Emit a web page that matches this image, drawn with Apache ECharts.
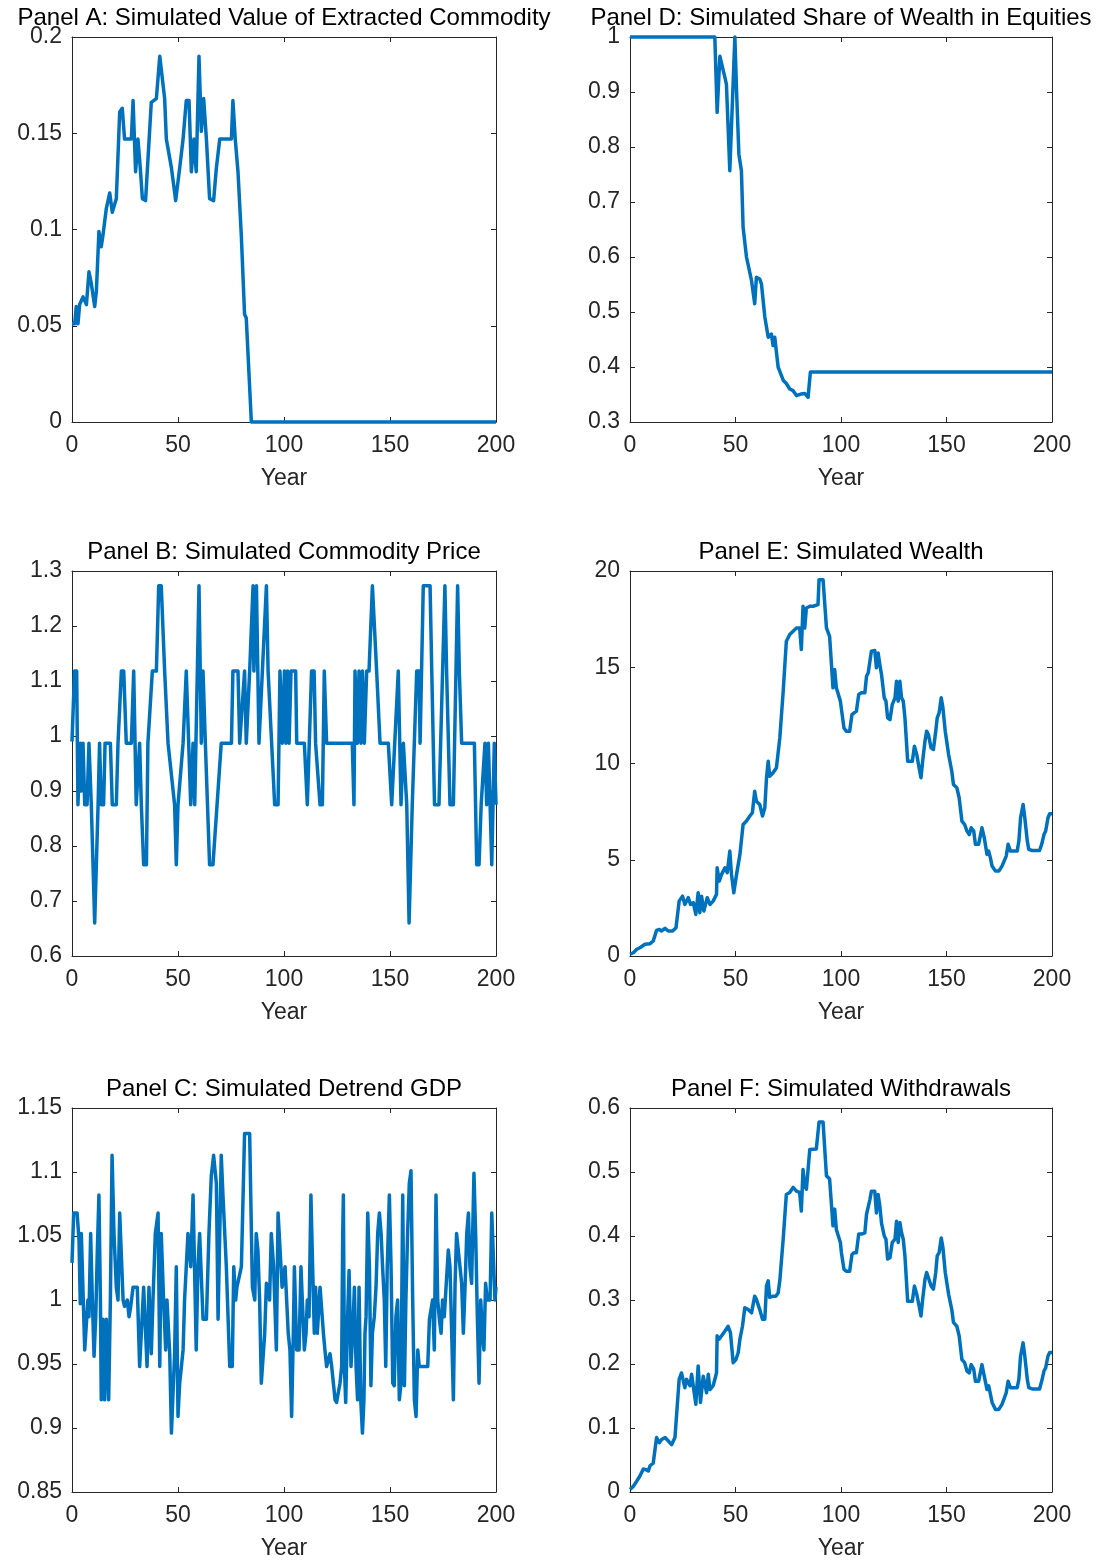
<!DOCTYPE html>
<html><head><meta charset="utf-8">
<script src="https://cdn.jsdelivr.net/npm/echarts@6/dist/echarts.min.js"></script>
<style>html,body{margin:0;padding:0;background:#fff}#c{width:1102px;height:1561px}</style>
</head><body><div id="c"></div>
<script>
// ---- Data: [year, value] pairs ----
const panelA = [[0,0.051],[1.3,0.051],[2,0.060],[2.8,0.051],[3.6,0.061],[5.2,0.065],[6.8,0.061],[8,0.078],[9.1,0.072],[10.7,0.060],[11.5,0.068],[12.7,0.099],[13.8,0.091],[14.6,0.097],[16.2,0.111],[17.8,0.119],[19,0.109],[20.9,0.116],[22.5,0.161],[23.7,0.163],[24.8,0.147],[28,0.147],[28.8,0.167],[30,0.130],[31.1,0.147],[32.2,0.132],[33.2,0.116],[34.7,0.115],[37.4,0.166],[39.8,0.168],[41.4,0.190],[42.1,0.190],[43.7,0.168],[44.5,0.147],[46.9,0.132],[48.9,0.115],[50.8,0.132],[52.4,0.147],[53.9,0.167],[55.2,0.167],[56.3,0.130],[57.5,0.147],[58.6,0.130],[59.9,0.190],[61,0.151],[62.1,0.168],[63.4,0.147],[64.9,0.116],[66.8,0.115],[68.1,0.132],[69.7,0.147],[75.2,0.147],[75.9,0.167],[77,0.147],[78.3,0.130],[79.9,0.096],[81.4,0.056],[82.2,0.054],[84.6,0],[200,0]];

const panelD = [[0,1],[40.2,1],[41.3,0.863],[42.6,0.965],[43.5,0.95],[45,0.926],[45.7,0.914],[47.3,0.757],[49.7,1.0],[50.5,0.902],[51.6,0.787],[52.8,0.757],[53.6,0.654],[55.2,0.6],[57.6,0.557],[59.1,0.515],[59.9,0.563],[61.5,0.56],[62.3,0.551],[63.9,0.491],[65.5,0.454],[67,0.46],[67.8,0.439],[68.6,0.454],[70.2,0.4],[72.6,0.376],[74.1,0.37],[75.7,0.36],[77.3,0.357],[78.9,0.348],[81.2,0.351],[82.8,0.352],[84.4,0.345],[85.5,0.391],[200,0.391]];

const panelB = [[0,0.99],[1.2,1.118],[2.2,1.118],[2.8,0.875],[3.9,0.987],[4.4,0.9],[5.2,0.987],[6,0.875],[7.1,0.875],[8,0.987],[9.1,0.875],[10.7,0.66],[12.3,0.875],[13,0.987],[13.8,0.875],[14.9,0.875],[15.6,0.987],[18.1,0.987],[19,0.875],[20.9,0.875],[21.7,0.987],[23.3,1.118],[24.4,1.118],[25.6,0.987],[28,0.987],[29.1,1.118],[30.3,0.875],[31.9,0.987],[32.7,0.875],[33.8,0.766],[35.1,0.766],[35.8,0.987],[37.9,1.118],[39.8,1.118],[40.9,1.273],[42.1,1.273],[43.7,1.118],[45.3,0.987],[48.4,0.875],[49.2,0.766],[50,0.875],[52.4,0.987],[53.9,1.118],[54.7,1.118],[56,0.875],[57.1,0.987],[57.9,0.875],[59.9,1.273],[61,0.987],[61.8,1.118],[62.9,0.987],[64.9,0.766],[66.5,0.766],[70.4,0.987],[75.2,0.987],[75.9,1.118],[78.3,1.118],[79.1,0.987],[81.4,1.118],[82.2,0.987],[83.8,1.118],[85.4,1.273],[85.8,1.118],[87,1.273],[88.2,0.987],[91.7,1.273],[92.5,1.118],[95.6,0.875],[97.2,0.875],[98.1,1.118],[99.2,0.987],[100.2,1.118],[100.9,0.987],[101.7,1.118],[102.4,0.987],[103.3,1.118],[105.5,1.118],[106,0.987],[109.6,0.987],[111,0.875],[111.9,0.875],[113,1.118],[114.2,1.118],[114.9,0.987],[117,0.875],[118.1,0.875],[119,1.118],[120.1,0.987],[132.2,0.987],[133,0.875],[133.5,1.118],[134.6,0.987],[135.4,1.118],[136.3,0.987],[137,1.118],[137.9,0.987],[139,1.118],[140.1,1.118],[141.7,1.273],[142.3,1.273],[143.7,1.118],[145.3,0.987],[149.2,0.987],[150.8,0.875],[153.9,1.118],[155.2,0.875],[156.3,0.987],[157.1,0.987],[157.9,0.875],[159,0.66],[160.5,0.875],[162.6,1.118],[163.7,1.118],[164.2,0.987],[165.7,1.273],[168.9,1.273],[169.7,1.118],[171,0.875],[173.1,0.875],[175.9,1.273],[176.7,1.118],[178.3,0.875],[179.9,0.875],[181.9,1.273],[182.7,1.118],[183.8,0.987],[189.8,0.987],[190.9,0.766],[192,0.766],[193,0.875],[194.8,0.987],[195.6,0.875],[196.4,0.987],[198,0.766],[199.2,0.987],[200,0.875]];

const panelC = [[0,1.029],[0.8,1.068],[2.4,1.068],[3.3,1.047],[3.9,0.997],[4.4,1.052],[5.2,1.052],[6,0.961],[6.8,0.961],[7.5,1.0],[8,0.987],[8.8,1.052],[9.6,1.0],[10.4,0.956],[11.2,0.987],[11.9,1.036],[12.7,1.082],[13.4,1.0],[13.8,0.922],[14.6,0.985],[15.4,0.922],[16.2,0.985],[17.3,0.922],[18.1,1.0],[18.9,1.113],[19.8,1.052],[20.9,1.010],[21.7,1.0],[22.5,1.068],[23.3,1.068],[24.1,1.0],[24.8,0.995],[26.1,1.0],[26.9,0.987],[27.7,0.995],[28.8,1.010],[30.8,1.010],[31.9,0.948],[32.7,0.948],[33.8,1.010],[34.6,1.010],[35.4,0.948],[36.3,1.010],[37.4,0.958],[38.2,1.0],[39.3,1.052],[40.6,1.068],[41.4,0.948],[42.1,1.052],[43.2,1.0],[44.2,0.961],[44.8,1.0],[46.1,0.958],[46.9,0.896],[48.4,0.958],[49.2,1.026],[50,0.909],[50.8,0.935],[52.4,0.961],[53.1,1.0],[53.9,1.026],[54.7,1.052],[56,1.026],[57.1,1.082],[57.9,1.082],[58.6,0.961],[59.4,1.026],[60.2,1.052],[61,1.052],[61.8,0.985],[63.4,0.985],[64.6,1.052],[65.7,1.097],[66.8,1.113],[68.1,1.091],[68.9,0.985],[69.7,1.052],[70.4,1.113],[71.2,1.082],[72,1.083],[72.8,1.026],[74.4,0.948],[75.6,0.948],[76.3,1.026],[77.2,1.0],[77.8,1.010],[79.9,1.026],[80.7,1.026],[81.4,1.13],[83.8,1.13],[84.3,1.083],[85.1,1.010],[86.2,1.0],[86.9,1.052],[87.7,1.039],[88.5,1.0],[89.3,0.935],[90.9,0.974],[91.7,1.013],[92.5,1.010],[93.2,1.0],[94,1.052],[95.1,1.026],[96.4,0.961],[97.2,1.068],[98,1.068],[99.1,1.010],[100.5,1.026],[101.3,1.026],[102,0.974],[102.8,0.961],[103.6,0.909],[104.4,0.974],[104.9,1.026],[105.5,1.026],[106,0.961],[106.4,0.974],[107.1,0.961],[108,1.026],[108.6,1.026],[109.6,0.961],[110.4,0.974],[111,1.0],[111.8,0.987],[112.7,1.082],[113.5,1.026],[114.3,0.974],[114.9,1.010],[115.7,0.974],[117,1.010],[117.8,1.010],[118.6,0.974],[119.3,0.961],[120.1,0.948],[120.9,0.948],[121.7,0.958],[122.5,0.948],[123.3,0.935],[124.1,0.922],[124.8,0.92],[125.6,0.92],[126.4,0.935],[127.2,0.948],[127.7,1.052],[128,1.082],[128.5,0.948],[129.1,0.92],[130,0.987],[130.7,1.023],[131.6,0.948],[132.4,0.974],[133.2,1.010],[134,0.948],[134.7,0.922],[135.4,1.010],[136.2,0.922],[137,0.896],[137.7,0.922],[138.2,0.974],[138.7,0.987],[139.5,1.068],[140.3,1.026],[141,0.933],[141.7,0.974],[142.6,0.987],[143.4,1.010],[144.2,1.052],[145,1.068],[145.8,1.052],[146.5,1.026],[147.3,1.0],[148,0.948],[148.7,1.026],[149.7,1.082],[150.5,1.026],[151.3,0.935],[152,0.933],[152.8,0.987],[153.6,1.0],[154.4,0.922],[155.2,0.935],[156,1.082],[156.8,0.933],[157.5,1.0],[158.3,1.052],[159.1,1.091],[159.9,1.101],[160.7,1.0],[161.5,0.922],[162.3,0.909],[163.1,0.961],[163.8,0.948],[164.9,0.948],[166.5,0.948],[167.8,0.948],[168.6,0.985],[169.3,0.985],[170.1,1.0],[170.9,0.961],[171.7,1.082],[172.5,1.0],[173.3,0.985],[174.1,0.974],[174.8,1.0],[175.6,0.987],[176.4,0.987],[177.5,1.039],[178.3,1.026],[179.1,0.974],[179.9,0.922],[180.7,1.013],[181.4,1.052],[182.2,1.052],[183,1.026],[183.8,1.013],[184.6,0.974],[185.4,1.010],[186.2,1.052],[187,1.068],[187.7,1.026],[188.5,1.013],[189.6,1.099],[190.4,1.052],[191.2,0.987],[192,0.935],[192.8,1.0],[193.6,0.974],[194.3,0.961],[195.1,1.013],[195.9,1.0],[197.2,1.0],[198,1.068],[198.7,1.068],[199.5,1.0],[200,1.010]];

const panelE = [[0,0.09],[1.6,0.17],[3.2,0.35],[4.7,0.43],[7.1,0.61],[7.9,0.52],[9.5,0.64],[11,0.78],[12.6,1.33],[13.9,1.38],[15,1.3],[16.6,1.44],[18.1,1.3],[20.2,1.3],[21.8,1.47],[23.3,2.85],[24.9,3.11],[26,2.68],[27.6,3.03],[28.7,2.68],[30,2.77],[31.2,2.16],[32.3,3.29],[33.1,2.25],[33.9,3.11],[35,2.34],[36.6,3.03],[37.9,2.68],[39.4,2.85],[41,3.2],[41.3,4.58],[42.3,3.89],[43.4,4.24],[45,4.58],[46.1,4.33],[47.3,5.45],[48.1,4.24],[49.2,3.29],[50.5,4.24],[52.1,5.28],[53.6,6.83],[55.2,7.01],[56.8,7.27],[58,7.44],[59.1,8.56],[59.9,8.04],[61.5,7.87],[62.8,7.27],[63.9,7.7],[64.7,9.26],[65.5,10.12],[66.2,9.34],[67.8,9.52],[69.4,9.78],[71,11.33],[72.6,13.75],[74.1,16.35],[75.7,16.7],[77.3,16.87],[78.9,17.04],[80.4,17.04],[81.2,15.92],[82,18.17],[82.8,17.04],[83.6,18.08],[85.2,18.17],[86.8,18.17],[89.1,18.25],[89.6,19.55],[91.5,19.55],[93.1,17.04],[94.6,16.6],[96.2,13.93],[97,14.88],[97.8,13.93],[98.6,13.84],[99.7,13.24],[100.6,12.5],[101.4,11.85],[102.5,11.68],[104.1,11.68],[105.2,12.54],[106.2,12.63],[107.3,12.72],[108.4,13.58],[109.7,13.67],[111.3,13.67],[112.1,14.53],[112.9,14.71],[113.7,15.31],[114.4,15.83],[116,15.87],[116.8,14.97],[117.6,15.74],[118.4,15.14],[119.2,14.62],[120.5,13.41],[121.3,13.24],[122.1,12.37],[123.2,12.28],[124.3,13.06],[125.6,13.41],[126.3,14.27],[127.1,13.24],[127.9,14.27],[128.7,13.41],[129.5,13.24],[130.3,12.37],[131.6,10.12],[132.7,10.12],[133.8,10.12],[134.8,10.9],[135.9,10.47],[137,9.78],[137.9,9.26],[138.7,10.12],[139.8,11.16],[140.6,11.68],[141.4,11.51],[142.7,10.81],[143.8,10.73],[144.9,11.68],[145.6,12.37],[146.5,12.63],[147.5,13.41],[148.3,12.89],[149.4,11.68],[151,10.47],[151.7,10.38],[152.5,9.6],[153.3,8.91],[154.9,8.74],[156,8.22],[157.3,7.01],[158.6,6.83],[159.7,6.49],[160.8,6.31],[161.7,6.66],[162.9,6.49],[163.7,5.8],[165.2,5.8],[166.8,6.66],[167.9,6.14],[169.2,5.28],[170,5.45],[170.8,5.1],[171.6,4.67],[173.2,4.41],[174.8,4.41],[176.3,4.67],[177.1,4.76],[178.3,5.19],[179.2,5.8],[180.3,5.45],[181.9,5.45],[183.5,5.45],[184.3,5.97],[185.1,7.18],[186.3,7.87],[187.1,7.18],[188.3,5.97],[189,5.54],[190.6,5.48],[192.2,5.48],[194.1,5.48],[195.1,5.8],[196.2,6.31],[197,6.49],[198.1,7.18],[198.9,7.39],[200,7.39]];

const panelF = [[0,0.004],[1.6,0.009],[3.2,0.017],[4.7,0.025],[6.3,0.036],[7.6,0.035],[8.7,0.033],[9.5,0.041],[11,0.045],[12.6,0.085],[13.9,0.077],[15,0.082],[16.6,0.085],[18.1,0.08],[19.7,0.074],[21.3,0.085],[23.3,0.176],[24.4,0.186],[26,0.163],[26.8,0.176],[28.4,0.166],[29.2,0.184],[30,0.181],[31.2,0.137],[32.3,0.197],[33.4,0.14],[34.7,0.181],[36.3,0.155],[37.1,0.184],[37.9,0.16],[39.4,0.166],[41,0.186],[41.3,0.244],[42.3,0.239],[43.4,0.244],[44.5,0.249],[45.4,0.249],[46.5,0.259],[47.6,0.249],[48.9,0.202],[50.2,0.207],[51.3,0.218],[52.1,0.239],[53.3,0.259],[54.4,0.288],[56,0.285],[57.6,0.28],[59.1,0.306],[59.9,0.301],[61.5,0.285],[62.8,0.27],[63.9,0.27],[64.7,0.322],[65.5,0.33],[66.2,0.304],[67.8,0.306],[69.1,0.306],[70.2,0.311],[71,0.33],[72.6,0.395],[74.1,0.465],[75.7,0.468],[77.3,0.476],[78.9,0.47],[80.4,0.468],[81.2,0.439],[82,0.504],[82.8,0.478],[83.6,0.473],[84.4,0.504],[85.2,0.535],[88.3,0.536],[89.6,0.578],[91.5,0.578],[93.1,0.494],[94.6,0.489],[96.2,0.416],[97,0.442],[97.8,0.41],[98.6,0.408],[99.7,0.39],[100.2,0.374],[101.4,0.348],[102.5,0.345],[104.1,0.345],[105.2,0.371],[106.2,0.374],[107.3,0.374],[108.4,0.403],[109.7,0.403],[111.3,0.405],[112.1,0.434],[112.9,0.436],[113.7,0.457],[114.4,0.47],[116,0.47],[116.8,0.436],[117.6,0.465],[118.4,0.447],[119.2,0.42],[120.5,0.4],[121.3,0.395],[122.1,0.364],[123.2,0.366],[124.3,0.39],[125.6,0.395],[126.3,0.423],[127.1,0.39],[127.9,0.421],[128.7,0.405],[129.5,0.395],[130.3,0.369],[131.6,0.298],[132.7,0.298],[133.8,0.298],[134.8,0.322],[135.9,0.309],[137,0.291],[137.9,0.275],[138.7,0.301],[139.8,0.332],[140.6,0.343],[141.4,0.343],[142.7,0.322],[143.8,0.317],[144.9,0.343],[145.6,0.369],[146.5,0.374],[147.5,0.397],[148.3,0.382],[149.4,0.343],[151,0.309],[151.7,0.306],[152.5,0.285],[153.3,0.265],[154.9,0.259],[156,0.244],[157.3,0.207],[158.6,0.202],[159.7,0.189],[160.8,0.186],[161.7,0.199],[162.9,0.192],[163.7,0.173],[165.2,0.173],[166.8,0.199],[167.9,0.181],[169.2,0.16],[170,0.166],[170.8,0.153],[171.6,0.14],[173.2,0.129],[174.8,0.129],[176.3,0.137],[177.1,0.14],[178.3,0.155],[179.2,0.173],[180.3,0.163],[181.9,0.163],[183.5,0.163],[184.3,0.176],[185.1,0.2125],[186.3,0.233],[187.1,0.2125],[188.3,0.176],[189,0.163],[190.6,0.161],[192.2,0.161],[194.1,0.161],[195.1,0.173],[196.2,0.189],[197,0.194],[198.1,0.2125],[198.9,0.218],[200,0.218]];

const titles = ['Panel A: Simulated Value of Extracted Commodity','Panel D: Simulated Share of Wealth in Equities','Panel B: Simulated Commodity Price','Panel E: Simulated Wealth','Panel C: Simulated Detrend GDP','Panel F: Simulated Withdrawals'];
const yMins = [0, 0.3, 0.6, 0, 0.85, 0];
const yMaxs = [0.2, 1, 1.3, 20, 1.15, 0.6];
const yIntervals = [0.05, 0.1, 0.1, 5, 0.05, 0.1];
const xTicks = {min: 0, max: 200, interval: 50};
const xName = 'Year';
const seriesData = [panelA, panelD, panelB, panelE, panelC, panelF];

// ---- Layout ----
const FONT = 'Liberation Sans, Arial, Helvetica, sans-serif';
const AX = '#262626';
const lefts = [72, 630];
const widths = [424, 422];
const tops = [37, 571, 1108];
const H = 385;

const grid = [], xAxis = [], yAxis = [], series = [], title = [];
for (let i = 0; i < 6; i++) {
  const col = i % 2, row = Math.floor(i / 2);
  grid.push({left: lefts[col], top: tops[row], width: widths[col], height: H, containLabel: false});
  title.push({text: titles[i], left: lefts[col] + widths[col] / 2, top: tops[row] - 31, textAlign: 'center', padding: 0,
    textStyle: {fontFamily: FONT, fontSize: 24, fontWeight: 'normal', color: '#000'}});
  const lineStyle = {show: true, onZero: false, lineStyle: {color: AX, width: 1}};
  const tick = {show: true, inside: true, length: 5, lineStyle: {color: AX, width: 1}};
  xAxis.push({gridIndex: i, type: 'value', position: 'bottom', min: xTicks.min, max: xTicks.max, interval: xTicks.interval,
    axisLine: lineStyle, axisTick: tick, splitLine: {show: false},
    axisLabel: {color: AX, fontFamily: FONT, fontSize: 23, margin: 12},
    name: xName, nameLocation: 'middle', nameGap: 45,
    nameTextStyle: {color: AX, fontFamily: FONT, fontSize: 23}});
  xAxis.push({gridIndex: i, type: 'value', position: 'top', min: xTicks.min, max: xTicks.max, interval: xTicks.interval,
    axisLine: lineStyle, axisTick: tick, splitLine: {show: false}, axisLabel: {show: false}});
  yAxis.push({gridIndex: i, type: 'value', position: 'left', min: yMins[i], max: yMaxs[i], interval: yIntervals[i],
    axisLine: lineStyle, axisTick: tick, splitLine: {show: false},
    axisLabel: {color: AX, fontFamily: FONT, fontSize: 23, margin: 10}});
  yAxis.push({gridIndex: i, type: 'value', position: 'right', min: yMins[i], max: yMaxs[i], interval: yIntervals[i],
    axisLine: lineStyle, axisTick: tick, splitLine: {show: false}, axisLabel: {show: false}});
  series.push({type: 'line', xAxisIndex: 2 * i, yAxisIndex: 2 * i, data: seriesData[i],
    showSymbol: false, symbol: 'none', clip: false, animation: false,
    lineStyle: {color: '#0072BD', width: 3.5, join: 'round'}});
}

const chart = echarts.init(document.getElementById('c'), null, {renderer: 'canvas'});
chart.setOption({animation: false, backgroundColor: '#fff', title, grid, xAxis, yAxis, series});
</script></body></html>
